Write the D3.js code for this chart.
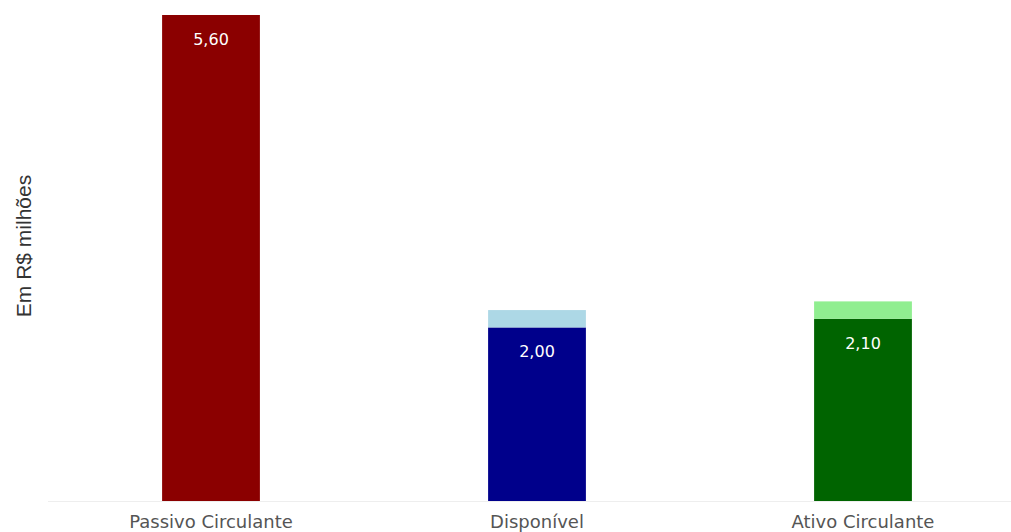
<!DOCTYPE html>
<html>
<head>
<meta charset="utf-8">
<script src="https://cdn.jsdelivr.net/npm/d3@7"></script>
<style>
  html, body { margin: 0; padding: 0; background: #ffffff; }
  svg { display: block; }
</style>
</head>
<body>
<div id="chart"></div>
<script>
// Categories and values (R$ millions)
const categories = ["Passivo Circulante", "Disponível", "Ativo Circulante"];
const baseValues = [5.60, 2.00, 2.10];
const capValues = [0, 0.20, 0.20];
const baseColors = ["#8b0000", "#00008b", "#006400"];
const capColors = ["#ffffff", "#add8e6", "#90ee90"];
const valueLabels = ["5,60", "2,00", "2,10"];

const width = 1011, height = 532;
const baseY = 501, topY = 15;

const svg = d3.select("#chart").append("svg")
  .attr("width", width).attr("height", height);

const x = d3.scaleBand()
  .domain(categories)
  .range([48, 1026])
  .paddingInner(0.7)
  .paddingOuter(0.35);

const y = d3.scaleLinear()
  .domain([0, 5.60])
  .range([baseY, topY]);

const rows = categories.map((c, i) => ({
  cat: c, base: baseValues[i], cap: capValues[i],
  baseColor: baseColors[i], capColor: capColors[i], label: valueLabels[i]
}));

// baseline
svg.append("line")
  .attr("x1", 48).attr("x2", width)
  .attr("y1", baseY + 0.5).attr("y2", baseY + 0.5)
  .attr("stroke", "#eeeeee").attr("stroke-width", 1);

// main bars
svg.selectAll("rect.base").data(rows).enter().append("rect")
  .attr("class", "base")
  .attr("x", d => x(d.cat))
  .attr("width", x.bandwidth())
  .attr("y", d => y(d.base))
  .attr("height", d => y(0) - y(d.base))
  .attr("fill", d => d.baseColor);

// stacked caps
svg.selectAll("rect.cap").data(rows.filter(d => d.cap > 0)).enter().append("rect")
  .attr("class", "cap")
  .attr("x", d => x(d.cat))
  .attr("width", x.bandwidth())
  .attr("y", d => y(d.base + d.cap))
  .attr("height", d => y(d.base) - y(d.base + d.cap))
  .attr("fill", d => d.capColor);

// value labels inside bars
svg.selectAll("text.value").data(rows).enter().append("text")
  .attr("class", "value")
  .attr("x", d => x(d.cat) + x.bandwidth() / 2)
  .attr("y", d => y(d.base) + 30)
  .attr("text-anchor", "middle")
  .attr("fill", "#ffffff")
  .attr("font-family", "DejaVu Sans, Verdana, sans-serif")
  .attr("font-size", 16)
  .text(d => d.label);

// category axis
const xAxis = svg.append("g")
  .attr("transform", `translate(0,${baseY})`)
  .call(d3.axisBottom(x).tickSize(0).tickPadding(14));
xAxis.select(".domain").remove();
xAxis.selectAll("text")
  .attr("fill", "#555555")
  .attr("font-family", "DejaVu Sans, Verdana, sans-serif")
  .attr("font-size", 18);

// y axis title
svg.append("text")
  .attr("transform", `translate(31,${246}) rotate(-90)`)
  .attr("text-anchor", "middle")
  .attr("fill", "#333333")
  .attr("font-family", "Liberation Sans, Arial, sans-serif")
  .attr("font-size", 21)
  .text("Em R$ milhões");
</script>
</body>
</html>
